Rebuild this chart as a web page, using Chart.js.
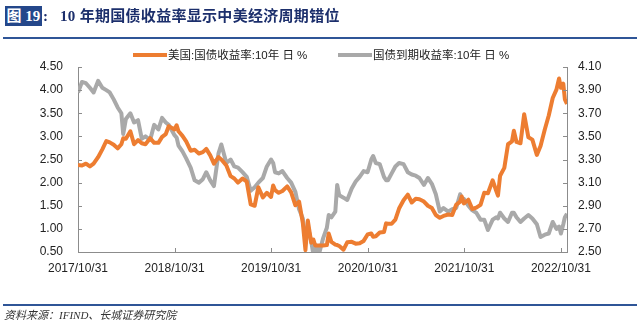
<!DOCTYPE html>
<html>
<head>
<meta charset="utf-8">
<script src="https://cdn.jsdelivr.net/npm/chart.js@4.4.0/dist/chart.umd.min.js"></script>
<style>
  html, body { margin: 0; padding: 0; background: #fff; }
  #wrap { position: relative; width: 640px; height: 324px; overflow: hidden; font-family: "Liberation Sans", Arial, "Noto Sans CJK SC", sans-serif; }
  #chartBox { position: absolute; left: 0; top: 0; width: 640px; height: 324px; }
  .tag { position: absolute; left: 5px; top: 6px; width: 37px; height: 20px; background: #24478a; color: #fff;
         font: bold 15px "Liberation Serif", "Noto Sans CJK SC", serif; line-height: 20px; text-align: center; }
  .colon { position: absolute; left: 43px; top: 6px; color: #1c2f6c; font: bold 15px "Liberation Serif", serif; line-height: 20px; }
  .title { position: absolute; left: 60px; top: 6px; color: #1c2f6c; font: bold 15px "Liberation Serif", "Noto Sans CJK SC", serif;
           line-height: 20px; letter-spacing: 0.3px; white-space: nowrap; }
  .rule { position: absolute; left: 3px; width: 634px; height: 2px; background: #2f5597; }
  .legend { position: absolute; top: 47px; font-size: 11.5px; line-height: 16px; color: #222; white-space: nowrap; }
  .legend i { display: inline-block; width: 34px; height: 4px; vertical-align: middle; margin-right: 1px; position: relative; top: -1px; }
  .source { position: absolute; left: 4px; top: 306px; font: italic 11px "Liberation Serif", "Noto Sans CJK SC", serif; color: #333; white-space: nowrap; }
</style>
</head>
<body>
<div id="wrap">
  <div id="chartBox"><canvas id="chart"></canvas></div>
  <div class="tag">图 19</div>
  <div class="colon">:</div>
  <div class="title">10 年期国债收益率显示中美经济周期错位</div>
  <div class="rule" style="top:37px"></div>
  <div class="legend" style="left:133px"><i style="background:#ed7d31"></i>美国:国债收益率:10年 日 %</div>
  <div class="legend" style="left:338px"><i style="background:#a9a9a9"></i>国债到期收益率:10年 日 %</div>
  <div class="rule" style="top:304px"></div>
  <div class="source">资料来源：IFIND、长城证券研究院</div>
</div>
<script>
// observation dates (roughly twice a month)
const dates = [
  "2017-10-31","2017-11-15","2017-11-30","2017-12-15","2017-12-29",
  "2018-01-15","2018-01-31","2018-02-15","2018-02-28","2018-03-15","2018-03-30",
  "2018-04-13","2018-04-20","2018-04-30","2018-05-17","2018-05-31","2018-06-15","2018-06-29",
  "2018-07-13","2018-07-31","2018-08-15","2018-08-31","2018-09-14","2018-09-28",
  "2018-10-09","2018-10-31","2018-11-08","2018-11-15","2018-11-30","2018-12-14","2018-12-31",
  "2019-01-15","2019-01-31","2019-02-15","2019-02-28","2019-03-15","2019-03-29",
  "2019-04-15","2019-04-26","2019-05-15","2019-05-31","2019-06-14","2019-06-28",
  "2019-07-15","2019-07-31","2019-08-15","2019-08-30","2019-09-13","2019-09-30",
  "2019-10-15","2019-10-31","2019-11-08","2019-11-15","2019-11-29","2019-12-13","2019-12-31",
  "2020-01-15","2020-01-31","2020-02-14","2020-02-28","2020-03-09","2020-03-18","2020-03-31",
  "2020-04-08","2020-04-15","2020-04-30","2020-05-15","2020-05-29","2020-06-05","2020-06-15","2020-06-30",
  "2020-07-07","2020-07-15","2020-07-31","2020-08-14","2020-08-31","2020-09-15","2020-09-30",
  "2020-10-15","2020-10-30","2020-11-13","2020-11-20","2020-11-30","2020-12-15","2020-12-31",
  "2021-01-08","2021-01-15","2021-01-29","2021-02-12","2021-02-26","2021-03-15","2021-03-31",
  "2021-04-15","2021-04-30","2021-05-14","2021-05-31","2021-06-15","2021-06-30",
  "2021-07-15","2021-07-30","2021-08-13","2021-08-31","2021-09-15","2021-09-30",
  "2021-10-15","2021-10-21","2021-10-29","2021-11-15","2021-11-30","2021-12-15","2021-12-31",
  "2022-01-14","2022-01-28","2022-02-15","2022-02-28","2022-03-07","2022-03-15","2022-03-31",
  "2022-04-14","2022-04-29","2022-05-06","2022-05-16","2022-05-31","2022-06-14","2022-06-30",
  "2022-07-15","2022-08-01","2022-08-15","2022-08-31","2022-09-15","2022-09-30",
  "2022-10-14","2022-10-24","2022-10-31","2022-11-09","2022-11-15","2022-11-23"
];

// US 10y treasury yield, left axis
const usYield = [
  2.38, 2.37, 2.41, 2.35, 2.41,
  2.55, 2.72, 2.90, 2.87, 2.82, 2.74,
  2.83, 2.96, 2.95, 3.11, 2.83, 2.92, 2.85,
  2.83, 2.96, 2.86, 2.86, 2.99, 3.05,
  3.22, 3.15, 3.24, 3.11, 3.01, 2.89, 2.69,
  2.71, 2.63, 2.66, 2.73, 2.59, 2.41,
  2.55, 2.50, 2.37, 2.14, 2.09, 2.00,
  2.09, 2.02, 1.53, 1.50, 1.90, 1.68,
  1.78, 1.69, 1.94, 1.84, 1.78, 1.82, 1.92,
  1.79, 1.51, 1.59, 1.13, 0.54, 1.18, 0.70,
  0.77, 0.64, 0.64, 0.64, 0.65, 0.90, 0.72, 0.66,
  0.65, 0.63, 0.55, 0.71, 0.72, 0.68, 0.69,
  0.74, 0.88, 0.90, 0.83, 0.84, 0.92, 0.93,
  1.12, 1.11, 1.11, 1.20, 1.44, 1.62, 1.74,
  1.57, 1.65, 1.64, 1.59, 1.50, 1.45,
  1.30, 1.24, 1.28, 1.31, 1.30, 1.52,
  1.59, 1.70, 1.55, 1.63, 1.43, 1.46, 1.52,
  1.78, 1.77, 2.05, 1.83, 1.72, 2.15, 2.32,
  2.83, 2.89, 3.12, 2.88, 2.85, 3.48, 2.98,
  2.93, 2.60, 2.79, 3.15, 3.45, 3.83,
  4.01, 4.25, 4.05, 4.14, 3.80, 3.70
];

// China 10y government bond yield, right axis
const cnYield = [
  3.88, 3.97, 3.96, 3.92, 3.88,
  3.98, 3.92, 3.90, 3.88, 3.82, 3.75,
  3.70, 3.52, 3.65, 3.70, 3.62, 3.64, 3.48,
  3.50, 3.47, 3.60, 3.56, 3.66, 3.62,
  3.60, 3.51, 3.49, 3.42, 3.37, 3.31, 3.23,
  3.12, 3.10, 3.13, 3.19, 3.12, 3.07,
  3.35, 3.43, 3.27, 3.30, 3.24, 3.23,
  3.19, 3.15, 3.03, 3.06, 3.10, 3.14,
  3.24, 3.30, 3.27, 3.19, 3.18, 3.20, 3.14,
  3.10, 3.02, 2.87, 2.79, 2.62, 2.72, 2.59,
  2.48, 2.56, 2.49, 2.62, 2.71, 2.82, 2.80, 2.85,
  3.08, 2.99, 2.97, 2.95, 3.05, 3.11, 3.15,
  3.20, 3.19, 3.30, 3.33, 3.27, 3.26, 3.15,
  3.12, 3.12, 3.18, 3.24, 3.27, 3.26, 3.19,
  3.17, 3.16, 3.14, 3.08, 3.14, 3.09,
  3.00, 2.85, 2.88, 2.85, 2.87, 2.88,
  3.00, 2.96, 2.96, 2.90, 2.86, 2.84, 2.78,
  2.78, 2.69, 2.78, 2.80, 2.79, 2.84, 2.79,
  2.76, 2.84, 2.84, 2.80, 2.76, 2.79, 2.82,
  2.79, 2.74, 2.63, 2.65, 2.66, 2.76,
  2.70, 2.72, 2.66, 2.74, 2.80, 2.83
];

const tickDates = ["2017-10-31", "2018-10-31", "2019-10-31", "2020-10-31", "2021-10-31", "2022-10-31"];
const axisEnd = "2022-11-23";
const leftTicks = { min: 0.5, max: 4.5, step: 0.5 };
const rightTicks = { min: 2.5, max: 4.1, step: 0.2 };

const AXIS_COLOR = "#8c8c8c";
const LABEL_FONT = { family: "'Liberation Sans', Arial, sans-serif", size: 12 };

// days since first date
function toDay(s) {
  const [y, m, d] = s.split("-").map(Number);
  return (Date.UTC(y, m - 1, d) - Date.UTC(2017, 9, 31)) / 86400000;
}
const tickLabel = {};
tickDates.forEach((d) => { tickLabel[toDay(d)] = d.replace(/-/g, "/"); });

// small tick marks pointing into the plot
const innerTicks = {
  id: "innerTicks",
  afterDatasetsDraw(chart) {
    const { ctx, chartArea: a, scales } = chart;
    ctx.save();
    ctx.strokeStyle = AXIS_COLOR;
    ctx.lineWidth = 1;
    ctx.beginPath();
    scales.yL.ticks.forEach((t, i) => {
      const y = Math.round(scales.yL.getPixelForTick(i)) + 0.5;
      ctx.moveTo(a.left, y); ctx.lineTo(a.left + 4, y);
    });
    scales.yR.ticks.forEach((t, i) => {
      const y = Math.round(scales.yR.getPixelForTick(i)) + 0.5;
      ctx.moveTo(a.right, y); ctx.lineTo(a.right - 4, y);
    });
    scales.x.ticks.forEach((t, i) => {
      const x = Math.round(scales.x.getPixelForTick(i)) + 0.5;
      ctx.moveTo(x, a.bottom); ctx.lineTo(x, a.bottom - 4);
    });
    ctx.stroke();
    ctx.restore();
  }
};

const axisBase = {
  grid: { drawOnChartArea: false, drawTicks: false },
  border: { display: true, color: AXIS_COLOR, width: 1 },
};

new Chart(document.getElementById("chart"), {
  type: "line",
  data: {
    datasets: [
      {
        label: "美国:国债收益率:10年 日 %",
        data: dates.map((d, i) => ({ x: toDay(d), y: usYield[i] })),
        yAxisID: "yL",
        borderColor: "#ed7d31",
        borderWidth: 4,
        borderJoinStyle: "round",
        pointRadius: 0,
        tension: 0,
        clip: 0,
      },
      {
        label: "国债到期收益率:10年 日 %",
        data: dates.map((d, i) => ({ x: toDay(d), y: cnYield[i] })),
        yAxisID: "yR",
        borderColor: "#a9a9a9",
        borderWidth: 4,
        borderJoinStyle: "round",
        pointRadius: 0,
        tension: 0,
        clip: 0,
      },
    ],
  },
  options: {
    responsive: true,
    maintainAspectRatio: false,
    animation: false,
    layout: { padding: { top: 67, left: 0, right: 0, bottom: 0 } },
    plugins: { legend: { display: false }, tooltip: { enabled: false } },
    scales: {
      x: {
        ...axisBase,
        type: "linear",
        min: 0,
        max: toDay(axisEnd),
        afterBuildTicks: (s) => { s.ticks = tickDates.map((d) => ({ value: toDay(d) })); },
        afterFit: (s) => { s.height = 72; },
        ticks: {
          color: "#222",
          font: LABEL_FONT,
          padding: 9,
          maxRotation: 0,
          autoSkip: false,
          callback: (v) => tickLabel[v] || "",
        },
      },
      yL: {
        ...axisBase,
        position: "left",
        min: leftTicks.min,
        max: leftTicks.max,
        afterFit: (s) => { s.width = 78; },
        ticks: { stepSize: leftTicks.step, color: "#222", font: LABEL_FONT, padding: 15, callback: (v) => v.toFixed(2) },
      },
      yR: {
        ...axisBase,
        position: "right",
        min: rightTicks.min,
        max: rightTicks.max,
        afterFit: (s) => { s.width = 73; },
        ticks: { stepSize: rightTicks.step, color: "#222", font: LABEL_FONT, padding: 11, callback: (v) => v.toFixed(2) },
      },
    },
  },
  plugins: [innerTicks],
});
</script>
</body>
</html>
